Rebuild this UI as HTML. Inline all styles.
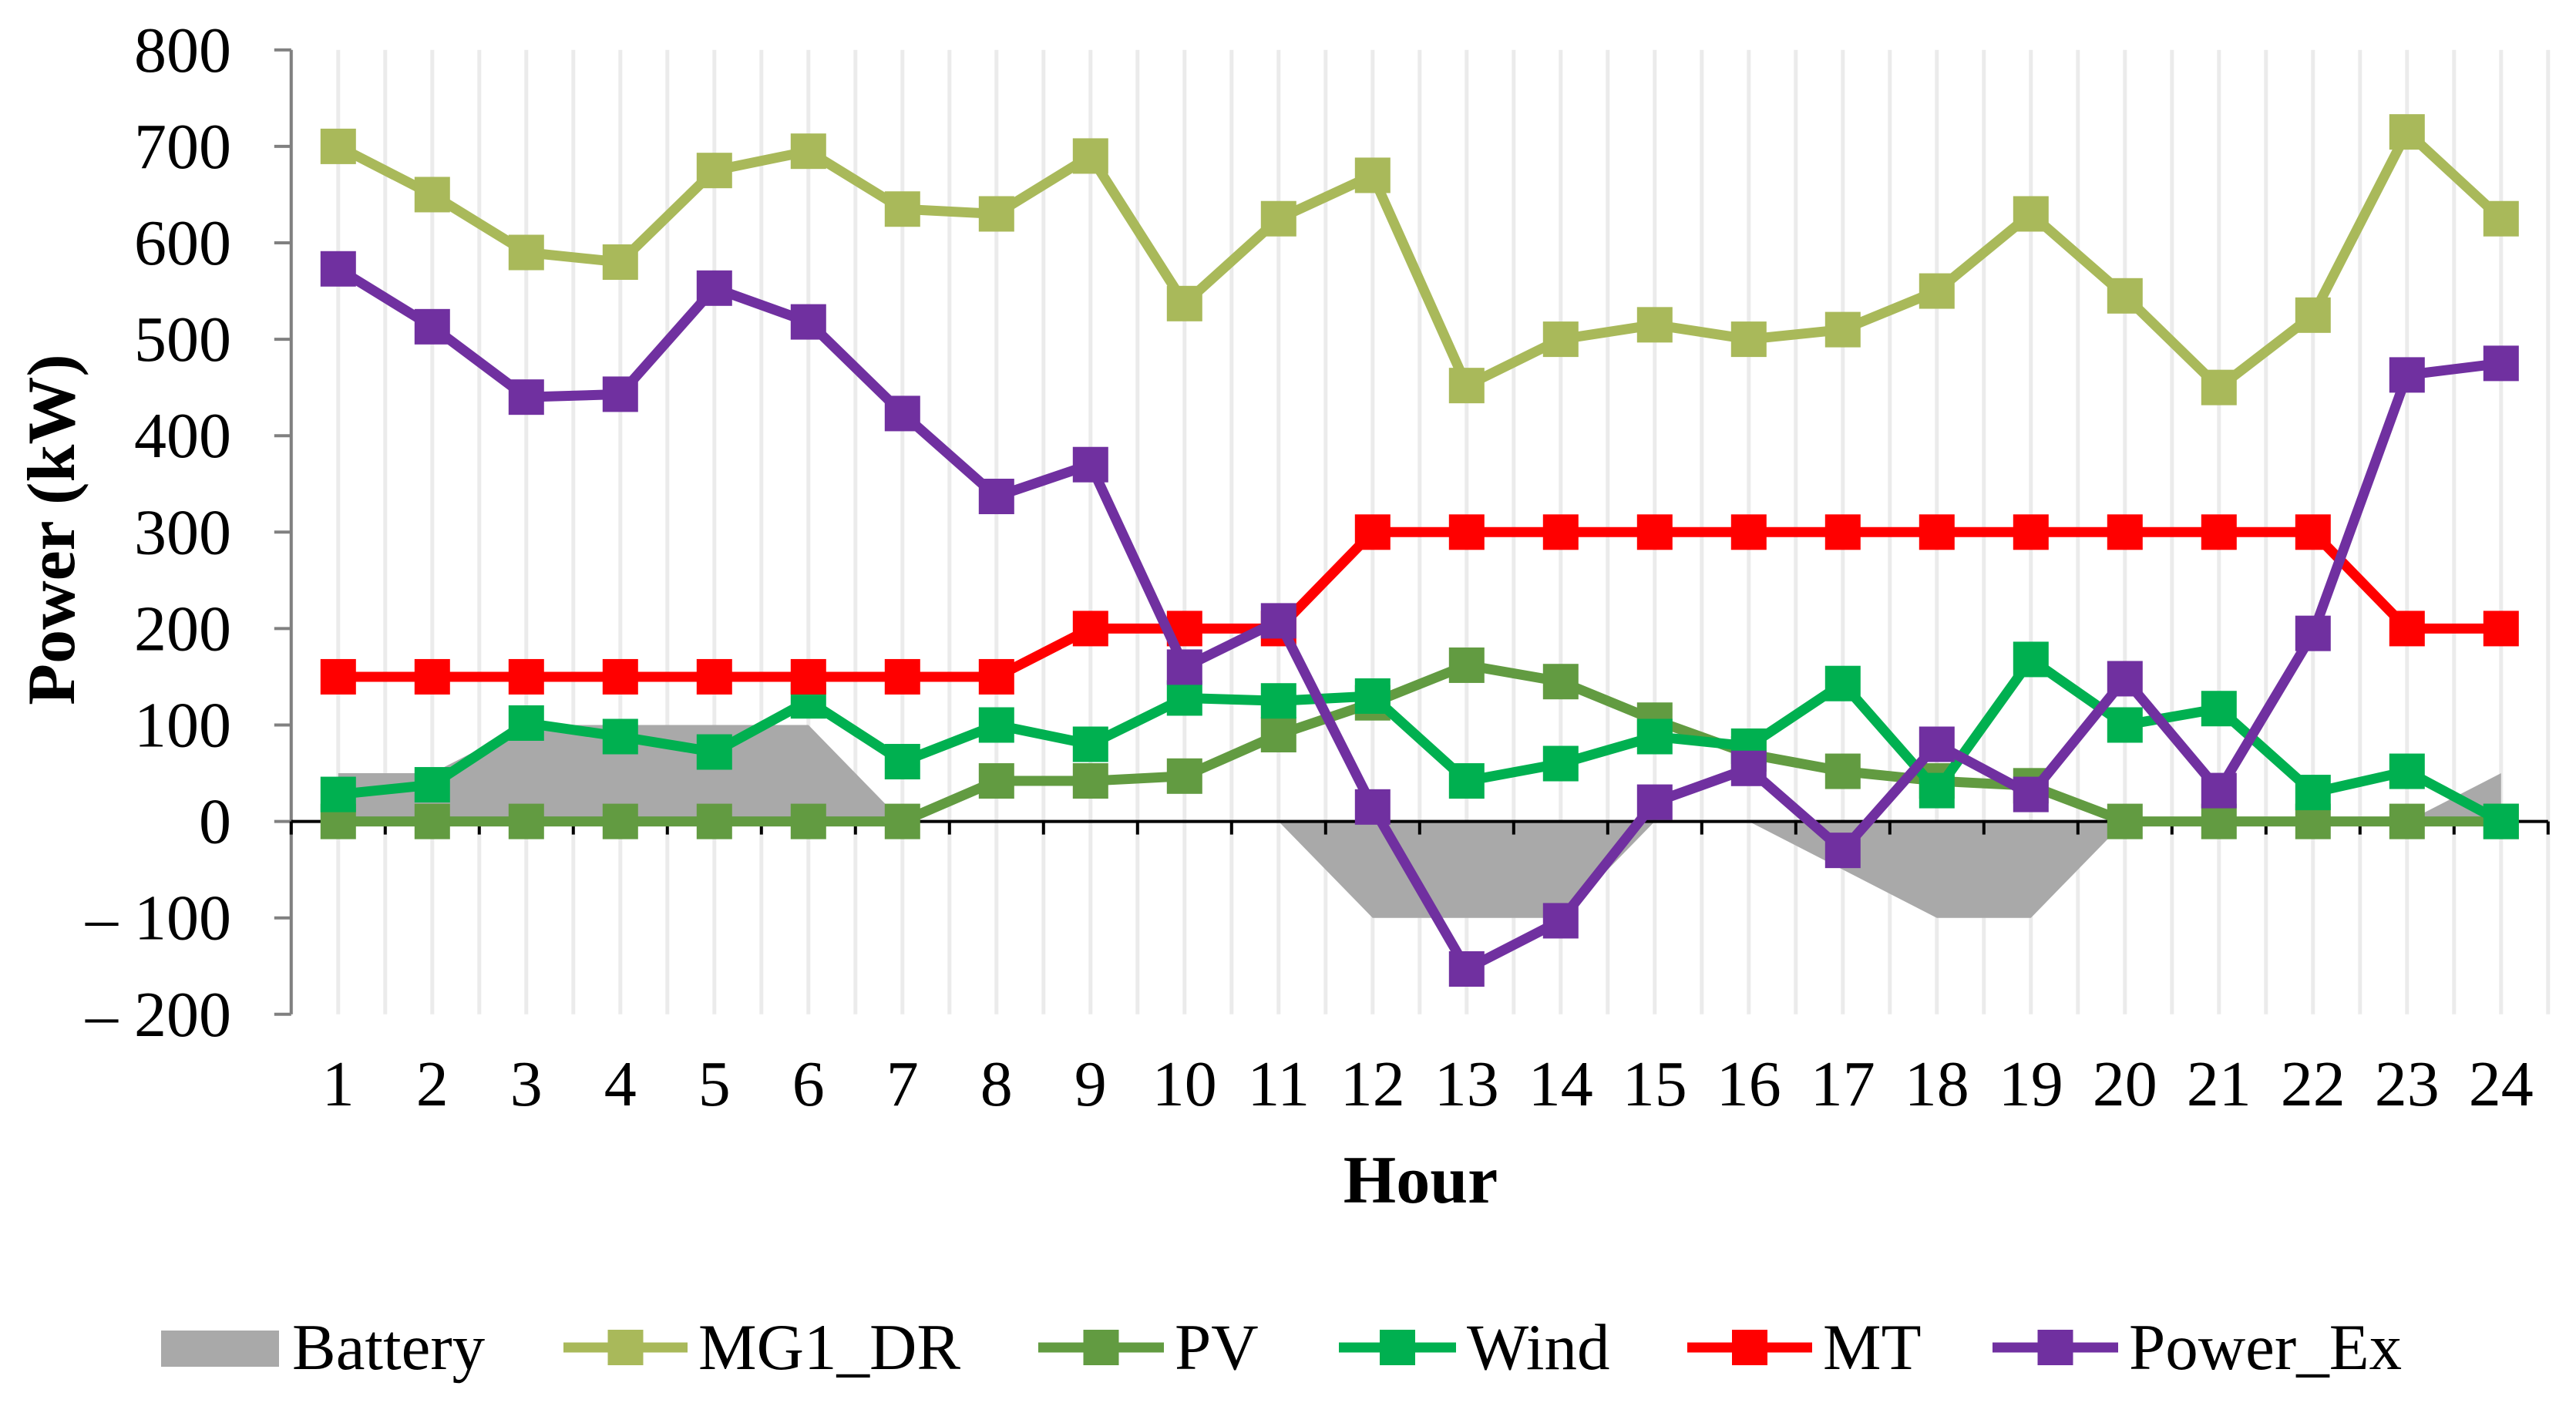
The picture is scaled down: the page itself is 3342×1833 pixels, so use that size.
<!DOCTYPE html>
<html><head><meta charset="utf-8"><style>
html,body{margin:0;padding:0;background:#fff}
svg{display:block}
text{font-family:"Liberation Serif",serif;fill:#000}
</style></head><body>
<svg id="chart" width="3342" height="1833" viewBox="0 0 3342 1833" xmlns="http://www.w3.org/2000/svg">
<g id="grid"></g>
<g id="area"></g>
<g id="axes"></g>
<g id="series"></g>
<text x="76" y="687" font-size="88" font-weight="bold" text-anchor="middle" dominant-baseline="middle" transform="rotate(-90 76 687)">Power (kW)</text>
<text x="1843" y="1560" font-size="88" font-weight="bold" text-anchor="middle">Hour</text>
<g id="legend"></g>
</svg>
<script>
const hours = [1,2,3,4,5,6,7,8,9,10,11,12,13,14,15,16,17,18,19,20,21,22,23,24];
const yTicks = [800,700,600,500,400,300,200,100,0,-100,-200];
const yTickLabels = ["800","700","600","500","400","300","200","100","0","\u2013 100","\u2013 200"];
const battery = [50,50,100,100,100,100,0,0,0,0,0,-100,-100,-100,0,0,-50,-100,-100,0,0,0,0,50];
const mg1dr = [700,650,590,580,675,695,635,630,690,537,625,670,452,500,515,500,510,550,630,545,450,525,715,625];
const pv = [0,0,0,0,0,0,0,42,42,47,90,123,162,145,105,70,52,42,37,0,0,0,0,0];
const wind = [28,38,102,88,72,125,62,100,80,128,125,130,42,60,88,78,143,32,168,100,117,30,52,0];
const mt = [150,150,150,150,150,150,150,150,200,200,200,300,300,300,300,300,300,300,300,300,300,300,200,200];
const powerEx = [573,513,440,443,553,518,423,337,370,160,208,15,-153,-103,20,55,-30,80,28,148,32,195,463,475];
const legendNames = ["Battery","MG1_DR","PV","Wind","MT","Power_Ex"];

const NS="http://www.w3.org/2000/svg";
const X0=438.8, DX=122.0, Y0=1065.6, DY=1.251;
const LW=13, MS=46;
function xs(h){return X0+(h-1)*DX;}
function ys(v){return Y0-v*DY;}
function mk(tag,attrs,parent){const e=document.createElementNS(NS,tag);for(const k in attrs)e.setAttribute(k,attrs[k]);parent.appendChild(e);return e;}
const grid=document.getElementById('grid'),area=document.getElementById('area'),axes=document.getElementById('axes'),series=document.getElementById('series'),legend=document.getElementById('legend');
const yTop=ys(800), yBot=ys(-200);
for(let h=0.5;h<=24.5;h+=0.5){
  const l=mk('line',{x1:xs(h),x2:xs(h),y1:yTop,y2:yBot,stroke:'#ebebeb','stroke-width':5},grid);
  
  
}
let pts=xs(1)+','+ys(0)+' ';
battery.forEach((v,i)=>{pts+=xs(hours[i])+','+ys(v)+' ';});
pts+=xs(24)+','+ys(0);
const poly=mk('polygon',{points:pts,fill:'#a9a9a9'},area);


const ax=mk('line',{x1:xs(0.5),x2:xs(0.5),y1:yTop,y2:yBot,stroke:'#808080','stroke-width':4},axes);


yTicks.forEach((v,i)=>{
  const t=mk('line',{x1:xs(0.5)-22,x2:xs(0.5),y1:ys(v),y2:ys(v),stroke:'#808080','stroke-width':4},axes);
  
  
  const tx=mk('text',{x:300,y:ys(v)+28,'font-size':84,'text-anchor':'end'},axes);
  tx.textContent=yTickLabels[i];
  
  
});
const zl=mk('line',{x1:xs(0.5),x2:xs(24.5),y1:ys(0),y2:ys(0),stroke:'#000','stroke-width':4},axes);


for(let h=0.5;h<=24.5;h+=1){
  const t=mk('line',{x1:xs(h),x2:xs(h),y1:ys(0),y2:ys(0)+17,stroke:'#000','stroke-width':4},axes);
  
  
}
hours.forEach(h=>{
  const tx=mk('text',{x:xs(h),y:1434,'font-size':84,'text-anchor':'middle'},axes);
  tx.textContent=String(h);
  
  
});
function drawSeries(vals,color,name){
  const g=mk('g',{},series);
  
  
  const p=mk('polyline',{points:vals.map((v,i)=>xs(hours[i])+','+ys(v)).join(' '),fill:'none',stroke:color,'stroke-width':LW,'stroke-linejoin':'round'},g);
  
  
  vals.forEach((v,i)=>{
    const r=mk('rect',{x:xs(hours[i])-MS/2,y:ys(v)-MS/2,width:MS,height:MS,fill:color},g);
    
    
  });
}
drawSeries(mg1dr,'#a9b95a','mg1-dr');
drawSeries(pv,'#629b41','pv');
drawSeries(wind,'#00b050','wind');
drawSeries(mt,'#ff0000','mt');
drawSeries(powerEx,'#7030a0','power-ex');
const LY=1748;
const lb=mk('rect',{x:209,y:1726,width:153,height:47,fill:'#a9a9a9'},legend);


const legItems=[[null,379],['#a9b95a',731,906],['#629b41',1347,1524],['#00b050',1737,1903],['#ff0000',2189,2365],['#7030a0',2585,2762]];
legItems.forEach((it,i)=>{
  const g=mk('g',{},legend);
  
  
  let tx;
  if(it[0]){
    const x1=it[1],x2=it[2]-14;
    mk('line',{x1:x1,x2:x2,y1:LY,y2:LY,stroke:it[0],'stroke-width':LW},g);
    mk('rect',{x:(x1+x2)/2-MS/2,y:LY-MS/2,width:MS,height:MS,fill:it[0]},g);
    tx=it[2];
  } else tx=it[1];
  const t=mk('text',{x:tx,y:1776,'font-size':85},g);
  t.textContent=legendNames[i];
});
</script>
</body></html>
